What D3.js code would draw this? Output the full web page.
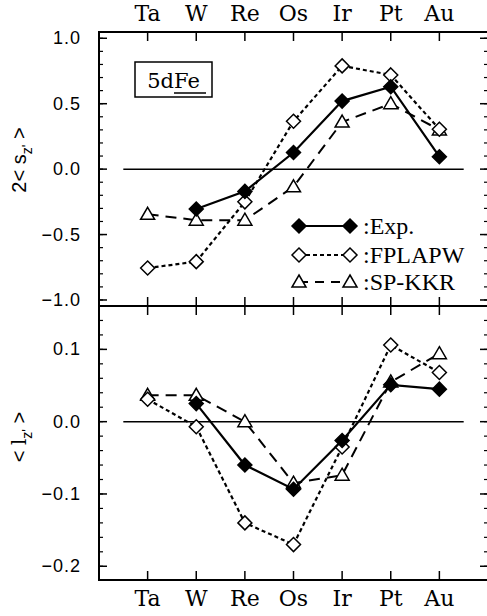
<!DOCTYPE html>
<html><head><meta charset="utf-8">
<script src="https://cdn.jsdelivr.net/npm/d3@7"></script>
<style>body{margin:0;background:#fff}svg{display:block}
.mono{font-family:'DejaVu Serif','Liberation Serif',serif}
.sans{font-family:'Liberation Sans',Arial,Helvetica,sans-serif}
.serif{font-family:'Liberation Serif','Times New Roman',Times,serif}
</style>
</head><body>
<svg id="c" width="487" height="616"></svg>
<script>
const elements = ["Ta","W","Re","Os","Ir","Pt","Au"];
// top panel: 2<s_z'>
const spinExp    = [null, -0.305, -0.17, 0.127, 0.52, 0.63, 0.095];
const spinFPLAPW = [-0.756, -0.707, -0.25, 0.366, 0.789, 0.72, 0.305];
const spinSPKKR  = [-0.345, -0.39, -0.39, -0.135, 0.36, 0.50, 0.30];
// bottom panel: <l_z'>
const orbExp    = [null, 0.025, -0.06, -0.0935, -0.026, 0.051, 0.045];
const orbFPLAPW = [0.031, -0.007, -0.14, -0.17, -0.035, 0.106, 0.068];
const orbSPKKR  = [0.0365, 0.0365, 0.0, -0.085, -0.074, 0.055, 0.094];
const topTicks = [-1.0, -0.5, 0.0, 0.5, 1.0];
const botTicks = [-0.2, -0.1, 0.0, 0.1];
const seriesNames = [":Exp.", ":FPLAPW", ":SP-KKR"];

const svg = d3.select("#c");
const L = 99, R = 488, T = 32, M = 306, B = 580;
const x = d3.scaleLinear().domain([0, 8]).range([L, R]);
const yTop = d3.scaleLinear().domain([-1.046, 1.048]).range([M, T]);
const yBot = d3.scaleLinear().domain([-0.219, 0.16]).range([B, M]);

const styles = [
  {marker: "fdiamond", dash: null, width: 2.2},
  {marker: "odiamond", dash: "4,3", width: 2.2},
  {marker: "triangle", dash: "11,7", width: 2}
];

function drawAxes(g, y, ticks, minorStep, fmt, yTopPix, yBotPix) {
  const minor = d3.range(Math.ceil(y.domain()[0]/minorStep - 1e-6), Math.floor(y.domain()[1]/minorStep + 1e-6) + 1).map(i => i*minorStep);
  g.append("g").selectAll("line").data(minor).join("line")
    .attr("x1", L).attr("x2", L + 4).attr("y1", d => y(d)).attr("y2", d => y(d))
    .attr("stroke", "#000").attr("stroke-width", 1.2);
  g.append("g").selectAll("line").data(minor).join("line")
    .attr("x1", R).attr("x2", R - 4).attr("y1", d => y(d)).attr("y2", d => y(d))
    .attr("stroke", "#000").attr("stroke-width", 1.2);
  g.append("g").selectAll("line").data(ticks).join("line")
    .attr("x1", L).attr("x2", L + 8).attr("y1", d => y(d)).attr("y2", d => y(d))
    .attr("stroke", "#000").attr("stroke-width", 1.5);
  g.append("g").selectAll("line").data(ticks).join("line")
    .attr("x1", R).attr("x2", R - 8).attr("y1", d => y(d)).attr("y2", d => y(d))
    .attr("stroke", "#000").attr("stroke-width", 1.5);
  g.append("g").selectAll("text").data(ticks).join("text")
    .attr("class", "sans")
    .attr("x", 81).attr("y", d => y(d) + 6)
    .attr("text-anchor", "end")
    .attr("font-size", 18).attr("letter-spacing", 1)
    .text(d => fmt(d).replace("-", "\u2212"));
  g.append("line").attr("x1", x(0.5)).attr("x2", x(7.5))
    .attr("y1", y(0)).attr("y2", y(0)).attr("stroke", "#000").attr("stroke-width", 1.5);
  g.append("g").selectAll("line").data(elements).join("line")
    .attr("x1", (d, i) => x(i + 1)).attr("x2", (d, i) => x(i + 1))
    .attr("y1", yTopPix).attr("y2", yTopPix + 9).attr("stroke", "#000").attr("stroke-width", 1.5);
  g.append("g").selectAll("line").data(elements).join("line")
    .attr("x1", (d, i) => x(i + 1)).attr("x2", (d, i) => x(i + 1))
    .attr("y1", yBotPix).attr("y2", yBotPix - 9).attr("stroke", "#000").attr("stroke-width", 1.5);
}

function marker(g, type, cx, cy) {
  if (type === "fdiamond" || type === "odiamond") {
    const r = 7;
    g.append("path").attr("d", `M${cx},${cy - r}L${cx + r},${cy}L${cx},${cy + r}L${cx - r},${cy}Z`)
      .attr("fill", type === "fdiamond" ? "#000" : "#fff").attr("stroke", "#000").attr("stroke-width", 1.5);
  } else {
    const r = 7;
    g.append("path").attr("d", `M${cx},${cy - r}L${cx + r},${cy + 5}L${cx - r},${cy + 5}Z`)
      .attr("fill", "#fff").attr("stroke", "#000").attr("stroke-width", 1.5);
  }
}

function drawSeries(g, y, data, st) {
  const pts = data.map((v, i) => v == null ? null : [x(i + 1), y(v)]).filter(p => p);
  const line = d3.line();
  const p = g.append("path").attr("d", line(pts)).attr("fill", "none")
    .attr("stroke", "#000").attr("stroke-width", st.width);
  if (st.dash) p.attr("stroke-dasharray", st.dash);
  pts.forEach(pt => marker(g, st.marker, pt[0], pt[1]));
}

const gTop = svg.append("g");
const gBot = svg.append("g");
drawAxes(gTop, yTop, topTicks, 0.1, d3.format(".1f"), T, M);
drawAxes(gBot, yBot, botTicks, 0.02, d3.format(".1f"), M, B);

drawSeries(gTop, yTop, spinSPKKR, styles[2]);
drawSeries(gTop, yTop, spinFPLAPW, styles[1]);
drawSeries(gTop, yTop, spinExp, styles[0]);
drawSeries(gBot, yBot, orbSPKKR, styles[2]);
drawSeries(gBot, yBot, orbFPLAPW, styles[1]);
drawSeries(gBot, yBot, orbExp, styles[0]);

svg.append("rect").attr("x", L).attr("y", T).attr("width", R - L).attr("height", B - T)
  .attr("fill", "none").attr("stroke", "#000").attr("stroke-width", 2);
svg.append("line").attr("x1", L).attr("x2", R).attr("y1", M).attr("y2", M)
  .attr("stroke", "#000").attr("stroke-width", 2);

svg.append("g").selectAll("text").data(elements).join("text")
  .attr("class", "mono")
  .attr("x", (d, i) => x(i + 1)).attr("y", 21).attr("text-anchor", "middle")
  .attr("font-size", 22).text(d => d);
svg.append("g").selectAll("text").data(elements).join("text")
  .attr("class", "mono")
  .attr("x", (d, i) => x(i + 1)).attr("y", 606).attr("text-anchor", "middle")
  .attr("font-size", 22).text(d => d);

// 5dFe box
svg.append("rect").attr("x", 135).attr("y", 62).attr("width", 77).attr("height", 35)
  .attr("fill", "#fff").attr("stroke", "#000").attr("stroke-width", 1.5);
const bt = svg.append("text").attr("class", "mono").attr("x", 173.5).attr("y", 88).attr("text-anchor", "middle")
  .attr("font-size", 21);
bt.append("tspan").text("5d");
bt.append("tspan").text("Fe");
svg.append("line").attr("x1", 174).attr("x2", 206).attr("y1", 93).attr("y2", 93)
  .attr("stroke", "#000").attr("stroke-width", 1.5);

// legend
const legY = [226, 255, 282];
styles.forEach((st, i) => {
  const g = svg.append("g");
  const l = g.append("line").attr("x1", 299).attr("x2", 350).attr("y1", legY[i]).attr("y2", legY[i])
    .attr("stroke", "#000").attr("stroke-width", st.width);
  if (st.dash) l.attr("stroke-dasharray", i === 1 ? "4,3" : "9,7");
  marker(g, st.marker, 299, legY[i]);
  marker(g, st.marker, 350, legY[i]);
  g.append("text").attr("class", "serif").attr("x", 363).attr("y", legY[i] + 8)
    .attr("font-size", 24).text(seriesNames[i]);
});

// y labels
const t1 = svg.append("text").attr("class", "sans").attr("transform", "translate(26,160) rotate(-90)")
  .attr("text-anchor", "middle").attr("font-size", 20);
t1.append("tspan").text("2< s");
t1.append("tspan").attr("font-size", 14).attr("dy", 6).text("z'");
t1.append("tspan").attr("dy", -6).text(" >");
const t2 = svg.append("text").attr("class", "sans").attr("transform", "translate(26,437) rotate(-90)")
  .attr("text-anchor", "middle").attr("font-size", 20);
t2.append("tspan").text("< ");
t2.append("tspan").attr("class", "mono").text("l");
t2.append("tspan").attr("font-size", 14).attr("dy", 6).text("z'");
t2.append("tspan").attr("dy", -6).text(" >");
</script>
</body></html>
